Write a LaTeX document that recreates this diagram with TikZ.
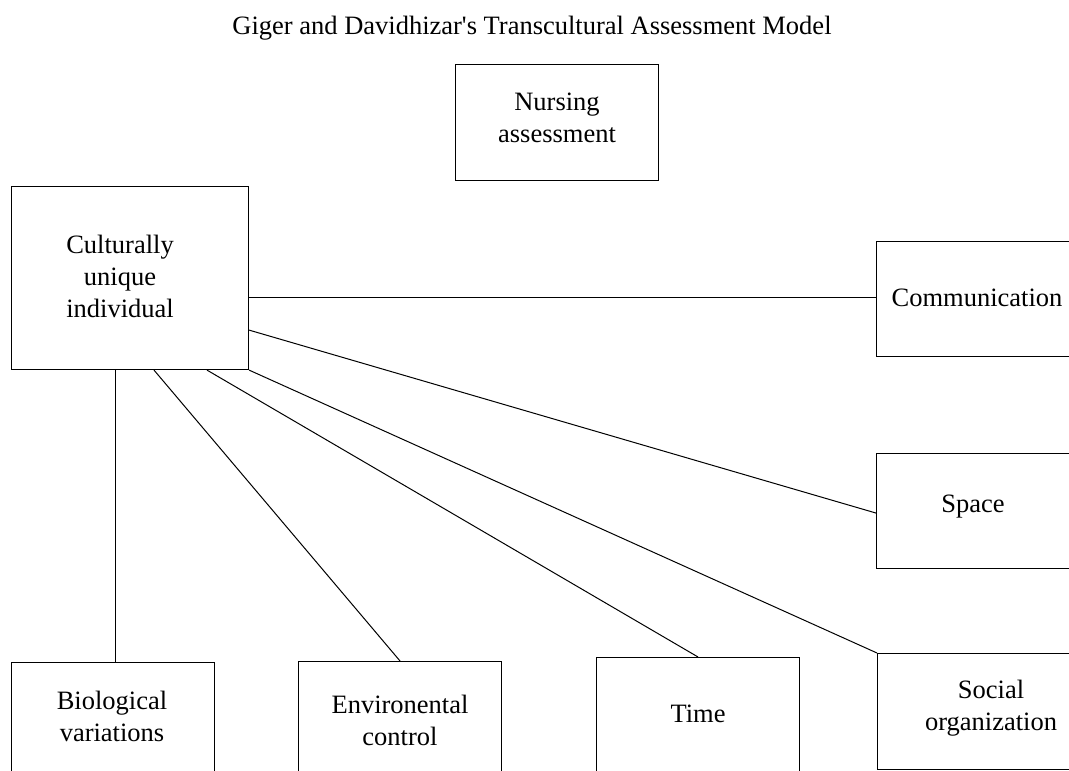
\documentclass[tikz,border=0pt]{standalone}
\usepackage{fontspec}
\setmainfont{Liberation Serif}
\newfontfamily\titlefont{Liberation Serif}[Ligatures=TeXOff]
\begin{document}
\begin{tikzpicture}[x=1pt,y=-1pt,
  box/.style={draw,line width=1.1pt,rectangle,inner sep=0pt,anchor=north west,minimum width=203pt,minimum height=116pt},
  lbl/.style={align=center,font=\fontsize{26.5}{32}\selectfont,inner sep=0pt},
  conn/.style={line width=1pt}]
\useasboundingbox (0,0) rectangle (1069,771);
\clip (0,0) rectangle (1069,771);
\node[font=\titlefont\fontsize{26.5}{30}\selectfont,inner sep=0pt] (title) at (532,28) {Giger and Davidhizar's Transcultural Assessment Model};
\node[box] (nur) at (455,64) {};
\node[box,minimum width=237pt,minimum height=183pt] (cui) at (11,186) {};
\node[box,minimum height=115pt] (com) at (876,241) {};
\node[box,minimum height=115pt] (spa) at (876,453) {};
\node[box] (bio) at (11,662) {};
\node[box] (env) at (298,661) {};
\node[box] (tim) at (596,657) {};
\node[box] (soc) at (877,653) {};
\node[lbl] (nurT) at (557,118) {Nursing\\assessment};
\node[lbl] (cuiT) at (120,276) {Culturally\\unique\\individual};
\node[lbl] (comT) at (977,298) {Communication};
\node[lbl] (spaT) at (973,507) {Space};
\node[lbl] (bioT) at (112,716) {Biological\\variations};
\node[lbl] (envT) at (400,720) {Environental\\control};
\node[lbl] (timT) at (698,714) {Time};
\node[lbl] (socT) at (991,708) {Social\\organization};
\coordinate (c1) at ([yshift=-19.5pt]cui.east);
\draw[conn] (c1) -- (c1 -| com.west);
\draw[conn] ([yshift=40pt]cui.south east) -- ([yshift=-2pt]spa.west);
\draw[conn] (cui.south east) -- (soc.north west);
\draw[conn] ([xshift=196pt]cui.south west) -- (tim.north);
\draw[conn] ([xshift=143pt]cui.south west) -- (env.north);
\draw[conn] ([xshift=104pt]cui.south west) -- ([xshift=104pt]cui.south west |- bio.north);
\end{tikzpicture}
\end{document}
